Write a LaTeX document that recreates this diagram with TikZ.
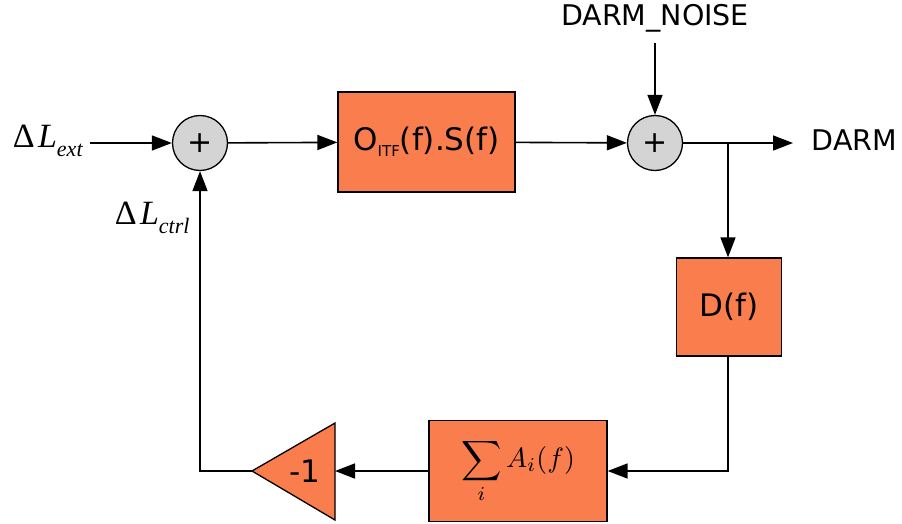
\documentclass[tikz,border=0pt]{standalone}
\usepackage{graphicx}
\usepackage{fontspec}
\setmainfont{DejaVu Sans}
\newfontfamily\serifL{Liberation Serif}
\usetikzlibrary{arrows.meta}
\definecolor{boxor}{RGB}{250,125,78}
\definecolor{sumgray}{RGB}{212,212,212}
\begin{document}
\begin{tikzpicture}[x=1pt,y=-1pt, line width=1.6pt,
  >={Triangle[length=20pt,width=15pt]},
  blk/.style={draw, fill=boxor, line width=1.3pt, inner sep=0pt, font=\fontsize{31}{32}\selectfont},
  sumnode/.style={draw, circle, fill=sumgray, minimum size=55pt, inner sep=0pt, line width=1.3pt, font=\fontsize{30}{30}\selectfont},
  lbl/.style={inner sep=0pt, font=\fontsize{28.5}{30}\selectfont},
  mlbl/.style={inner sep=0pt, font=\serifL\fontsize{34}{36}\selectfont}]
\useasboundingbox (0,0) rectangle (902,524);

% summing junctions
\node[sumnode] (s1) at (200,143) {+};
\node[sumnode] (s2) at (655,143) {+};

% blocks
\node[blk, minimum width=177pt, minimum height=100pt] (G) at (426.5,142) {O\raisebox{-0.35ex}{\fontsize{15}{15}\selectfont ITF}(f).S(f)};
\node[blk, minimum width=105pt, minimum height=98pt] (D) at (729,307) {D(f)};
\node[blk, minimum width=178pt, minimum height=101pt] (S) at (518,471) {\scalebox{2.8}{\fontsize{10}{12}\selectfont$\displaystyle\sum_i A_i(f)$}};

% inverter triangle
\draw[fill=boxor, line width=1.3pt] (335,423) -- (335,520) -- (252,471) -- cycle;
\coordinate (tb) at (335,471);
\coordinate (ta) at (252,471);
\node[lbl, font=\fontsize{31}{32}\selectfont] (m1) at (305,471) {-1};

% labels
\node[mlbl, anchor=west] (lext) at (12,141) {Δ\kern0.1em\textit{L}\raisebox{-0.28em}{\fontsize{22}{22}\selectfont\textit{ext}}};
\node[mlbl, anchor=west] (lctrl) at (114,218) {Δ\kern0.1em\textit{L}\raisebox{-0.28em}{\fontsize{22}{22}\selectfont\textit{ctrl}}};
\node[lbl] (noise) at (655,18) {DARM\_NOISE};
\node[lbl, anchor=west] (darm) at (811,140) {DARM};

\coordinate (inA) at (90,143);
\coordinate (nz) at (655,43);
\coordinate (outT) at (793,143);
\coordinate (br) at (728,143);

% connectors
\draw[->] (inA) -- (s1);
\draw[->] (s1) -- (G);
\draw[->] (G) -- (s2);
\draw[->] (nz) -- (s2);
\draw[->] (s2) -- (outT);
\draw[->] (br) -- (br |- D.north);
\draw[->] (br |- D.south) |- (S.east);
\draw[->] (S.west) -- (tb);
\draw[->] (ta) -| (s1.south);
\end{tikzpicture}
\end{document}
